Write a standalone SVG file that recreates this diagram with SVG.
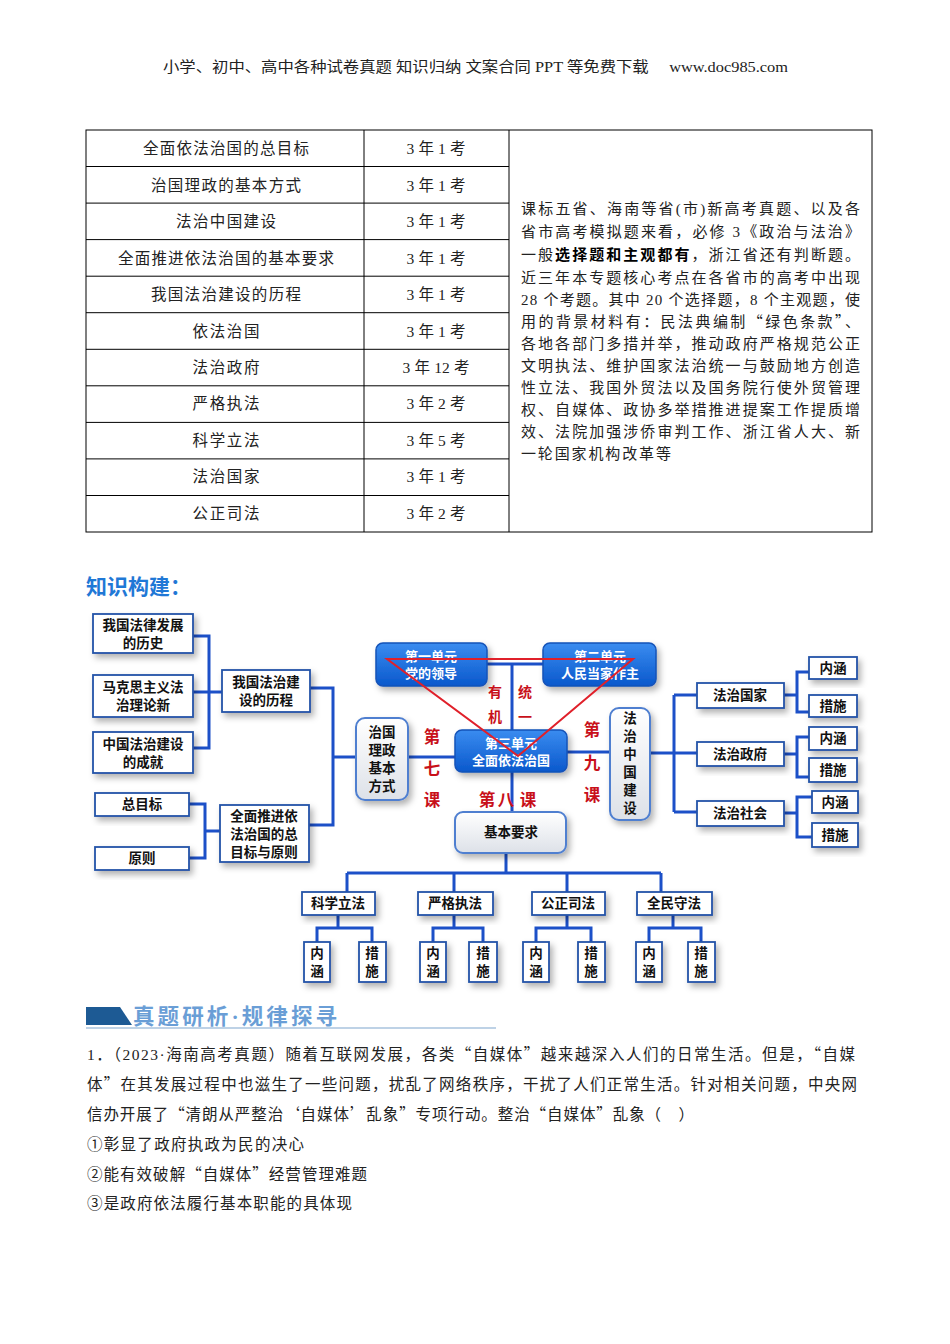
<svg xmlns="http://www.w3.org/2000/svg" width="950" height="1344" viewBox="0 0 950 1344">
<defs>
<style>
.serif{font-family:"Liberation Serif","Noto Sans CJK SC",serif;fill:#222;}
.q{font-family:"Noto Sans CJK SC",sans-serif;}
.c{text-anchor:middle;}
.nb{font-family:"Noto Sans CJK SC","Liberation Sans",sans-serif;font-weight:bold;font-size:13.5px;fill:#111;text-anchor:middle;}
.wb{font-family:"Noto Sans CJK SC","Liberation Sans",sans-serif;font-weight:bold;font-size:13px;fill:#fff;text-anchor:middle;}
.red{font-family:"Noto Sans CJK SC","Liberation Sans",sans-serif;font-weight:bold;fill:#c8101a;text-anchor:middle;}
.box{fill:#fff;stroke:#2353a8;stroke-width:1.8;filter:url(#sh);}
.bluebox{fill:url(#gBlue);stroke:#1553b8;stroke-width:1.5;filter:url(#sh);}
.lbox{fill:url(#gLight);stroke:#4f7fd0;stroke-width:2;filter:url(#sh);}
.conn{fill:none;stroke:#1c50c8;stroke-width:3;}
.tl{stroke:#000;stroke-width:1;}
</style>
<filter id="sh" x="-30%" y="-30%" width="170%" height="170%">
<feDropShadow dx="3" dy="4" stdDeviation="3" flood-color="#000" flood-opacity="0.3"/>
</filter>
<linearGradient id="gBlue" x1="0" y1="0" x2="0" y2="1">
<stop offset="0" stop-color="#3a8cf0"/>
<stop offset="1" stop-color="#0a58cc"/>
</linearGradient>
<linearGradient id="gLight" x1="0" y1="0" x2="0" y2="1">
<stop offset="0" stop-color="#ffffff"/>
<stop offset="1" stop-color="#dde1e8"/>
</linearGradient>
</defs>
<rect width="950" height="1344" fill="#fff"/>

<!-- header -->
<text class="serif" x="163" y="72" font-size="14.5" textLength="625" lengthAdjust="spacingAndGlyphs">小学、初中、高中各种试卷真题 知识归纳 文案合同 PPT 等免费下载　 www.doc985.com</text>

<!-- table -->
<g id="table">
<rect x="86" y="130" width="786" height="402" fill="none" class="tl"/>
<line class="tl" x1="364" y1="130" x2="364" y2="532"/>
<line class="tl" x1="509" y1="130" x2="509" y2="532"/>
<line class="tl" x1="86" y1="166.5" x2="509" y2="166.5"/>
<line class="tl" x1="86" y1="203.1" x2="509" y2="203.1"/>
<line class="tl" x1="86" y1="239.6" x2="509" y2="239.6"/>
<line class="tl" x1="86" y1="276.2" x2="509" y2="276.2"/>
<line class="tl" x1="86" y1="312.7" x2="509" y2="312.7"/>
<line class="tl" x1="86" y1="349.3" x2="509" y2="349.3"/>
<line class="tl" x1="86" y1="385.8" x2="509" y2="385.8"/>
<line class="tl" x1="86" y1="422.4" x2="509" y2="422.4"/>
<line class="tl" x1="86" y1="458.9" x2="509" y2="458.9"/>
<line class="tl" x1="86" y1="495.5" x2="509" y2="495.5"/>
<g class="serif c" font-size="15.5">
<text x="226" y="154" textLength="166">全面依法治国的总目标</text>
<text x="226" y="191" textLength="150">治国理政的基本方式</text>
<text x="226" y="227" textLength="100">法治中国建设</text>
<text x="226" y="264" textLength="216">全面推进依法治国的基本要求</text>
<text x="226" y="300" textLength="150">我国法治建设的历程</text>
<text x="226" y="337" textLength="67">依法治国</text>
<text x="226" y="373" textLength="67">法治政府</text>
<text x="226" y="409" textLength="67">严格执法</text>
<text x="226" y="446" textLength="67">科学立法</text>
<text x="226" y="482" textLength="67">法治国家</text>
<text x="226" y="519" textLength="67">公正司法</text>
<text x="436" y="154" textLength="59">3 年 1 考</text>
<text x="436" y="191" textLength="59">3 年 1 考</text>
<text x="436" y="227" textLength="59">3 年 1 考</text>
<text x="436" y="264" textLength="59">3 年 1 考</text>
<text x="436" y="300" textLength="59">3 年 1 考</text>
<text x="436" y="337" textLength="59">3 年 1 考</text>
<text x="436" y="373" textLength="67">3 年 12 考</text>
<text x="436" y="409" textLength="59">3 年 2 考</text>
<text x="436" y="446" textLength="59">3 年 5 考</text>
<text x="436" y="482" textLength="59">3 年 1 考</text>
<text x="436" y="519" textLength="59">3 年 2 考</text>
</g>
<g class="serif" font-size="15">
<text x="521" y="214" textLength="339">课标五省、海南等省(市)新高考真题、以及各</text>
<text x="521" y="237" textLength="339">省市高考模拟题来看，必修 3《政治与法治》</text>
<text x="521" y="260" textLength="339">一般<tspan font-family="Noto Sans CJK SC, Liberation Sans, sans-serif" font-weight="bold" fill="#000">选择题和主观都有</tspan>，浙江省还有判断题。</text>
<text x="521" y="283" textLength="339">近三年本专题核心考点在各省市的高考中出现</text>
<text x="521" y="305" textLength="339">28 个考题。其中 20 个选择题，8 个主观题，使</text>
<text x="521" y="327" textLength="339">用的背景材料有：民法典编制<tspan class="q">“</tspan>绿色条款<tspan class="q">”</tspan>、</text>
<text x="521" y="349" textLength="339">各地各部门多措并举，推动政府严格规范公正</text>
<text x="521" y="371" textLength="339">文明执法、维护国家法治统一与鼓励地方创造</text>
<text x="521" y="393" textLength="339">性立法、我国外贸法以及国务院行使外贸管理</text>
<text x="521" y="415" textLength="339">权、自媒体、政协多举措推进提案工作提质增</text>
<text x="521" y="437" textLength="339">效、法院加强涉侨审判工作、浙江省人大、新</text>
<text x="521" y="459" textLength="150">一轮国家机构改革等</text>
</g>
</g>

<!-- title -->
<text x="86" y="594" font-family="Noto Sans CJK SC, Liberation Sans, sans-serif" font-weight="bold" font-size="21" fill="#1f78d6">知识构建：</text>

<!-- connectors -->
<g id="connectors">
<path class="conn" d="M193,636 H209 V748 H193 M193,692 H222"/>
<path class="conn" d="M189,804 H205 V858 H189 M205,831 H220"/>
<path class="conn" d="M310,688 H333 V825 H309 M333,757 H356"/>
<path class="conn" d="M408,757 H455"/>
<path class="conn" d="M487,664 H543 M512,664 V730 M512,772 V813"/>
<path class="conn" d="M567,752 H610"/>
<path class="conn" d="M650,753 H674 M674,695 V812 M674,695 H697 M674,753 H697 M674,812 H697"/>
<path class="conn" d="M784,695 H797 M809,672 H797 V712 H809"/>
<path class="conn" d="M784,754 H797 M809,737 H797 V777 H809"/>
<path class="conn" d="M784,813 H797 M812,797 H797 V837 H812"/>
<path class="conn" d="M506,853 V873 M347,873 H661 M347,873 V892 M454,873 V892 M567,873 V892 M661,873 V892"/>
<path class="conn" d="M338,915 V928 M317,942 V928 H372 V942"/>
<path class="conn" d="M454,915 V928 M433,942 V928 H483 V942"/>
<path class="conn" d="M567,915 V928 M536,942 V928 H591 V942"/>
<path class="conn" d="M673,915 V928 M649,942 V928 H701 V942"/>
</g>

<!-- left nodes -->
<g id="n-history"><rect class="box" x="93" y="614" width="100" height="39"/><text class="nb" x="143" y="630">我国法律发展<tspan x="143" dy="18">的历史</tspan></text></g>
<g id="n-marx"><rect class="box" x="93" y="675" width="100" height="42"/><text class="nb" x="143" y="692">马克思主义法<tspan x="143" dy="18">治理论新</tspan></text></g>
<g id="n-achieve"><rect class="box" x="93" y="732" width="100" height="41"/><text class="nb" x="143" y="749">中国法治建设<tspan x="143" dy="18">的成就</tspan></text></g>
<g id="n-goal"><rect class="box" x="95" y="793" width="94" height="23"/><text class="nb" x="142" y="809">总目标</text></g>
<g id="n-principle"><rect class="box" x="95" y="847" width="94" height="23"/><text class="nb" x="142" y="863">原则</text></g>
<g id="n-course"><rect class="box" x="222" y="670" width="88" height="42"/><text class="nb" x="266" y="687">我国法治建<tspan x="266" dy="18">设的历程</tspan></text></g>
<g id="n-goalprin"><rect class="box" x="220" y="805" width="89" height="57"/><text class="nb" x="264" y="821">全面推进依<tspan x="264" dy="18">法治国的总</tspan><tspan x="264" dy="18">目标与原则</tspan></text></g>

<!-- center -->
<g id="n-basic-way"><rect class="lbox" x="356" y="718" width="52" height="82" rx="9"/><text class="nb" x="382" y="737">治国<tspan x="382" dy="18">理政</tspan><tspan x="382" dy="18">基本</tspan><tspan x="382" dy="18">方式</tspan></text></g>
<g id="n-unit1"><rect class="bluebox" x="376" y="643" width="111" height="43" rx="7"/><text class="wb" x="431" y="661">第一单元<tspan x="431" dy="17">党的领导</tspan></text></g>
<g id="n-unit2"><rect class="bluebox" x="543" y="643" width="113" height="43" rx="7"/><text class="wb" x="600" y="661">第二单元<tspan x="600" dy="17">人民当家作主</tspan></text></g>
<g id="n-unit3"><rect class="bluebox" x="455" y="730" width="112" height="42" rx="7"/><text class="wb" x="511" y="748">第三单元<tspan x="511" dy="17">全面依法治国</tspan></text></g>
<g id="n-china"><rect class="lbox" x="610" y="708" width="40" height="112" rx="9"/><text class="nb" x="630" y="723" font-size="13">法<tspan x="630" dy="18">治</tspan><tspan x="630" dy="18">中</tspan><tspan x="630" dy="18">国</tspan><tspan x="630" dy="18">建</tspan><tspan x="630" dy="18">设</tspan></text></g>
<g id="n-require"><rect class="lbox" x="455" y="812" width="111" height="41" rx="8"/><text class="nb" x="511" y="837">基本要求</text></g>

<!-- red triangle and labels -->
<g id="triangle">
<polygon points="387,659 633,659 518,756" fill="none" stroke="#e0202a" stroke-width="2"/>
<g class="red" font-size="14"><text x="495" y="697">有<tspan x="495" dy="25">机</tspan></text><text x="525" y="697">统<tspan x="525" dy="25">一</tspan></text></g>
<g class="red" font-size="16.5">
<text x="432" y="743">第<tspan x="432" dy="31.5">七</tspan><tspan x="432" dy="31.5">课</tspan></text>
<text x="487" y="806">第</text><text x="506" y="806">八</text><text x="528" y="806">课</text>
<text x="592" y="736">第<tspan x="592" dy="32.5">九</tspan><tspan x="592" dy="32.5">课</tspan></text>
</g>
</g>

<!-- right nodes -->
<g id="n-state"><rect class="box" x="697" y="683" width="87" height="25"/><text class="nb" x="740" y="700">法治国家</text></g>
<g id="n-gov"><rect class="box" x="697" y="742" width="87" height="24"/><text class="nb" x="740" y="759">法治政府</text></g>
<g id="n-soc"><rect class="box" x="697" y="801" width="87" height="25"/><text class="nb" x="740" y="818">法治社会</text></g>
<g id="n-s-nh"><rect class="box" x="809" y="657" width="48" height="22"/><text class="nb" x="833" y="673">内涵</text></g>
<g id="n-s-cs"><rect class="box" x="809" y="695" width="48" height="22"/><text class="nb" x="833" y="711">措施</text></g>
<g id="n-g-nh"><rect class="box" x="809" y="727" width="48" height="23"/><text class="nb" x="833" y="743">内涵</text></g>
<g id="n-g-cs"><rect class="box" x="809" y="758" width="48" height="24"/><text class="nb" x="833" y="775">措施</text></g>
<g id="n-c-nh"><rect class="box" x="812" y="791" width="46" height="22"/><text class="nb" x="835" y="807">内涵</text></g>
<g id="n-c-cs"><rect class="box" x="812" y="823" width="46" height="24"/><text class="nb" x="835" y="840">措施</text></g>

<!-- bottom nodes -->
<g id="n-kxlf"><rect class="box" x="302" y="892" width="73" height="23"/><text class="nb" x="338" y="908">科学立法</text></g>
<g id="n-ygzf"><rect class="box" x="418" y="892" width="75" height="23"/><text class="nb" x="455" y="908">严格执法</text></g>
<g id="n-gzsf"><rect class="box" x="532" y="892" width="73" height="23"/><text class="nb" x="568" y="908">公正司法</text></g>
<g id="n-qmsf"><rect class="box" x="637" y="892" width="75" height="23"/><text class="nb" x="674" y="908">全民守法</text></g>
<g id="n-b1n"><rect class="box" x="304" y="942" width="26" height="40"/><text class="nb" x="317" y="958">内<tspan x="317" dy="18">涵</tspan></text></g>
<g id="n-b1c"><rect class="box" x="359" y="942" width="27" height="40"/><text class="nb" x="372" y="958">措<tspan x="372" dy="18">施</tspan></text></g>
<g id="n-b2n"><rect class="box" x="420" y="942" width="26" height="40"/><text class="nb" x="433" y="958">内<tspan x="433" dy="18">涵</tspan></text></g>
<g id="n-b2c"><rect class="box" x="469" y="942" width="28" height="40"/><text class="nb" x="483" y="958">措<tspan x="483" dy="18">施</tspan></text></g>
<g id="n-b3n"><rect class="box" x="523" y="942" width="26" height="40"/><text class="nb" x="536" y="958">内<tspan x="536" dy="18">涵</tspan></text></g>
<g id="n-b3c"><rect class="box" x="578" y="942" width="27" height="40"/><text class="nb" x="591" y="958">措<tspan x="591" dy="18">施</tspan></text></g>
<g id="n-b4n"><rect class="box" x="636" y="942" width="26" height="40"/><text class="nb" x="649" y="958">内<tspan x="649" dy="18">涵</tspan></text></g>
<g id="n-b4c"><rect class="box" x="688" y="942" width="27" height="40"/><text class="nb" x="701" y="958">措<tspan x="701" dy="18">施</tspan></text></g>

<!-- section header -->
<polygon points="86,1007 120,1007 132,1025 86,1025" fill="#1d5a94"/>
<line x1="86" y1="1028" x2="496" y2="1028" stroke="#a9c3de" stroke-width="1.5"/>
<text x="133" y="1024" font-family="Liberation Serif, Noto Sans CJK SC, serif" font-weight="bold" font-size="21.5" fill="#6a9ed6" textLength="204">真题研析·规律探寻</text>

<!-- question -->
<g class="serif" font-size="15.5">
<text x="87" y="1060" textLength="768">1．（2023·海南高考真题）随着互联网发展，各类<tspan class="q">“</tspan>自媒体<tspan class="q">”</tspan>越来越深入人们的日常生活。但是，<tspan class="q">“</tspan>自媒</text>
<text x="87" y="1090" textLength="770">体<tspan class="q">”</tspan>在其发展过程中也滋生了一些问题，扰乱了网络秩序，干扰了人们正常生活。针对相关问题，中央网</text>
<text x="87" y="1120" textLength="607">信办开展了<tspan class="q">“</tspan>清朗从严整治<tspan class="q">‘</tspan>自媒体<tspan class="q">’</tspan>乱象<tspan class="q">”</tspan>专项行动。整治<tspan class="q">“</tspan>自媒体<tspan class="q">”</tspan>乱象（　）</text>
<text x="87" y="1150" textLength="217">①彰显了政府执政为民的决心</text>
<text x="87" y="1180" textLength="280">②能有效破解<tspan class="q">“</tspan>自媒体<tspan class="q">”</tspan>经营管理难题</text>
<text x="87" y="1209" textLength="265">③是政府依法履行基本职能的具体现</text>
</g>
</svg>
